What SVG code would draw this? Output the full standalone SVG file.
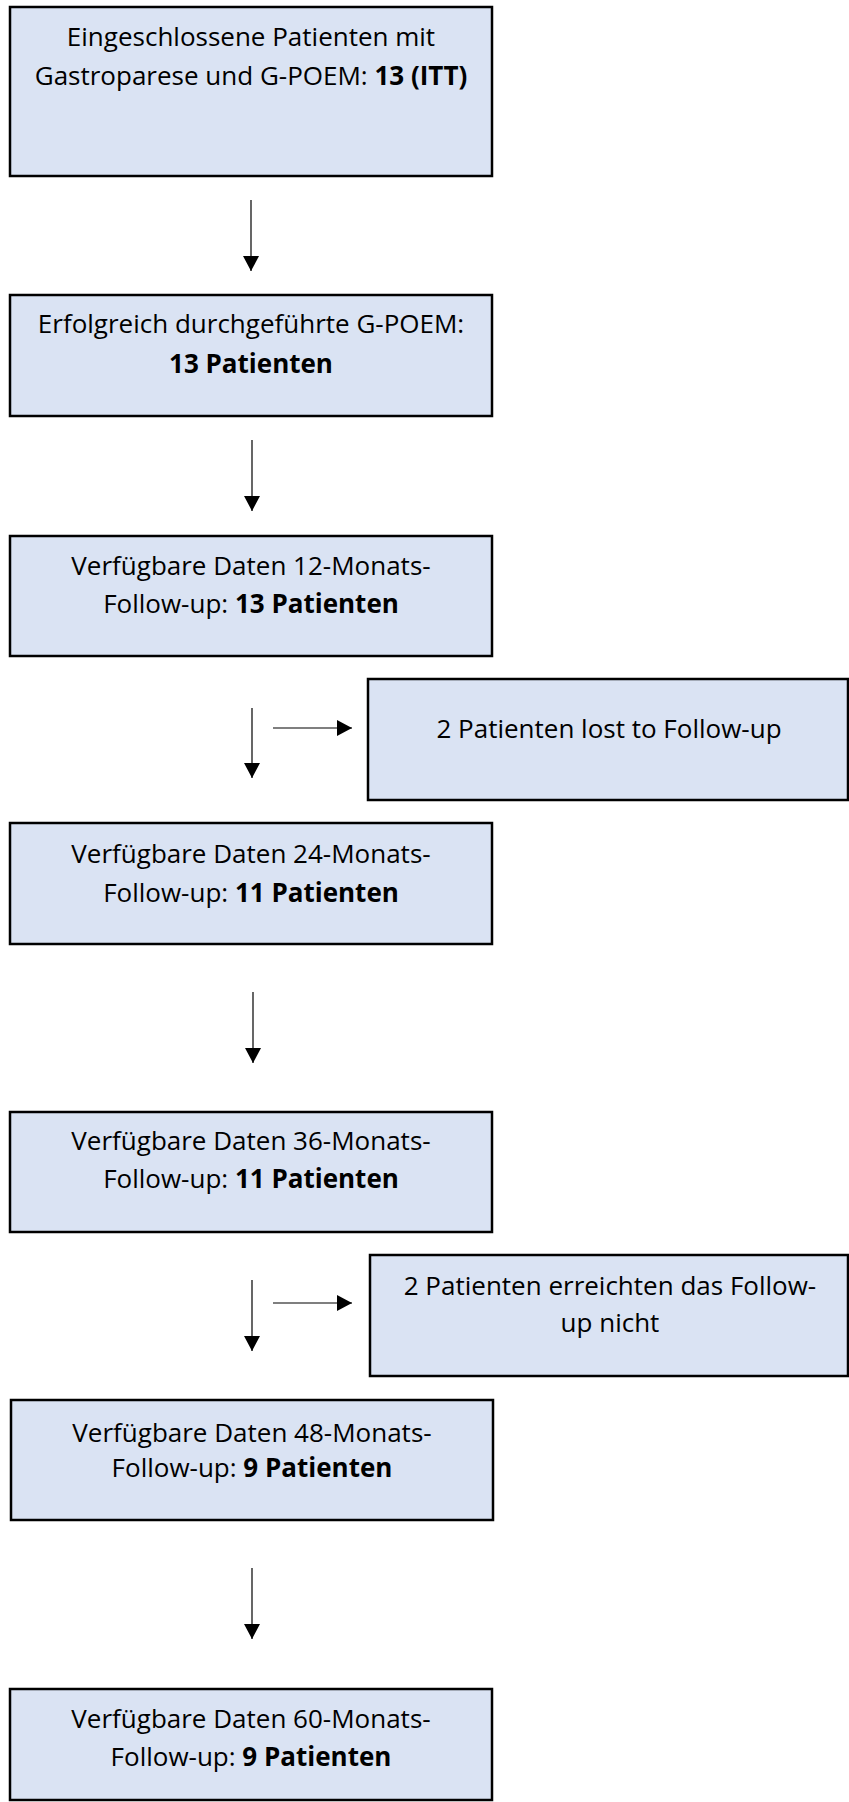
<svg xmlns="http://www.w3.org/2000/svg" width="849" height="1802" viewBox="0 0 849 1802">
<defs>
<marker id="ah" markerUnits="userSpaceOnUse" markerWidth="15" markerHeight="16" refX="15" refY="8" orient="auto">
<path d="M0,0 L15,8 L0,16 z" fill="#000"/>
</marker>
<style>
.box{fill:#DAE3F3;stroke:#000;stroke-width:2.5}
.t{font-family:"Open Sans","Noto Sans",sans-serif;font-size:26px;fill:#000;text-anchor:middle}
.b{font-weight:bold}
.c{stroke:#000;stroke-width:1.2;fill:none;marker-end:url(#ah)}
</style>
</defs>
<rect width="849" height="1802" fill="#fff"/>
<g id="n1"><rect class="box" x="10" y="7" width="482" height="169"/>
<text class="t" x="251" y="46">Eingeschlossene Patienten mit</text>
<text class="t" x="251" y="85">Gastroparese und G-POEM: <tspan class="b">13 (ITT)</tspan></text></g>
<g id="n2"><rect class="box" x="10" y="295" width="482" height="121"/>
<text class="t" x="251" y="333">Erfolgreich durchgeführte G-POEM:</text>
<text class="t b" x="251" y="373">13 Patienten</text></g>
<g id="n3"><rect class="box" x="10" y="536" width="482" height="120"/>
<text class="t" x="251" y="575">Verfügbare Daten 12-Monats-</text>
<text class="t" x="251" y="613">Follow-up: <tspan class="b">13 Patienten</tspan></text></g>
<g id="s1"><rect class="box" x="368" y="679" width="480" height="121"/>
<text class="t" x="609" y="738">2 Patienten lost to Follow-up</text></g>
<g id="n4"><rect class="box" x="10" y="823" width="482" height="121"/>
<text class="t" x="251" y="863">Verfügbare Daten 24-Monats-</text>
<text class="t" x="251" y="902">Follow-up: <tspan class="b">11 Patienten</tspan></text></g>
<g id="n5"><rect class="box" x="10" y="1112" width="482" height="120"/>
<text class="t" x="251" y="1150">Verfügbare Daten 36-Monats-</text>
<text class="t" x="251" y="1188">Follow-up: <tspan class="b">11 Patienten</tspan></text></g>
<g id="s2"><rect class="box" x="370" y="1255" width="478" height="121"/>
<text class="t" x="610" y="1295">2 Patienten erreichten das Follow-</text>
<text class="t" x="610" y="1332">up nicht</text></g>
<g id="n6"><rect class="box" x="11" y="1400" width="482" height="120"/>
<text class="t" x="252" y="1442">Verfügbare Daten 48-Monats-</text>
<text class="t" x="252" y="1477">Follow-up: <tspan class="b">9 Patienten</tspan></text></g>
<g id="n7"><rect class="box" x="10" y="1689" width="482" height="111"/>
<text class="t" x="251" y="1728">Verfügbare Daten 60-Monats-</text>
<text class="t" x="251" y="1766">Follow-up: <tspan class="b">9 Patienten</tspan></text></g>
<g id="connectors">
<line class="c" x1="251" y1="200" x2="251" y2="271"/>
<line class="c" x1="252" y1="440" x2="252" y2="511"/>
<line class="c" x1="252" y1="708" x2="252" y2="778"/>
<line class="c" x1="273" y1="728" x2="352" y2="728"/>
<line class="c" x1="253" y1="992" x2="253" y2="1063"/>
<line class="c" x1="252" y1="1280" x2="252" y2="1351"/>
<line class="c" x1="273" y1="1303" x2="352" y2="1303"/>
<line class="c" x1="252" y1="1568" x2="252" y2="1639"/>
</g>
</svg>
